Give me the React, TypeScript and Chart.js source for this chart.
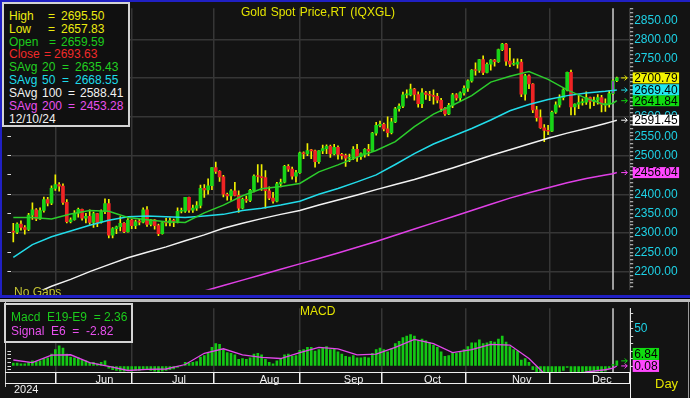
import React, { useEffect, useRef } from 'react';
import { Chart, registerables } from 'chart.js';

Chart.register(...registerables);

// ---------- DATA ----------
const DATES = [
  '05/03','05/06','05/07','05/08','05/09','05/10','05/13','05/14','05/15','05/16','05/17','05/20','05/21','05/22','05/23','05/24','05/27','05/28','05/29','05/30','05/31',
  '06/03','06/04','06/05','06/06','06/07','06/10','06/11','06/12','06/13','06/14','06/17','06/18','06/19','06/20','06/21','06/24','06/25','06/26','06/27','06/28',
  '07/01','07/02','07/03','07/04','07/05','07/08','07/09','07/10','07/11','07/12','07/15','07/16','07/17','07/18','07/19','07/22','07/23','07/24','07/25','07/26','07/29','07/30','07/31',
  '08/01','08/02','08/05','08/06','08/07','08/08','08/09','08/12','08/13','08/14','08/15','08/16','08/19','08/20','08/21','08/22','08/23','08/26','08/27','08/28','08/29','08/30',
  '09/02','09/03','09/04','09/05','09/06','09/09','09/10','09/11','09/12','09/13','09/16','09/17','09/18','09/19','09/20','09/23','09/24','09/25','09/26','09/27','09/30',
  '10/01','10/02','10/03','10/04','10/07','10/08','10/09','10/10','10/11','10/14','10/15','10/16','10/17','10/18','10/21','10/22','10/23','10/24','10/25','10/28','10/29','10/30','10/31',
  '11/01','11/04','11/05','11/06','11/07','11/08','11/11','11/12','11/13','11/14','11/15','11/18','11/19','11/20','11/21','11/22','11/25','11/26','11/27','11/28','11/29',
  '12/02','12/03','12/04','12/05','12/06','12/09','12/10','12/11',
];

const OPEN = [
  2304,2302,2323,2314,2309,2346,2360,2336,2358,2386,2377,2415,2425,2421,2379,2329,2334,2351,2361,2338,2343,
  2327,2350,2327,2355,2376,2294,2311,2316,2325,2303,2333,2319,2329,2328,2360,2322,2334,2319,2298,2327,
  2326,2332,2330,2356,2356,2392,2359,2364,2371,2415,2411,2422,2469,2459,2445,2400,2396,2409,2397,2364,2387,2384,2410,
  2447,2446,2443,2409,2390,2382,2427,2431,2472,2465,2447,2456,2507,2504,2513,2512,2484,2512,2518,2524,2504,2521,
  2503,2500,2493,2495,2516,2497,2505,2516,2512,2558,2578,2581,2569,2559,2587,2621,2628,2657,2657,2672,2658,
  2634,2662,2658,2656,2653,2643,2622,2608,2630,2657,2649,2662,2674,2693,2721,2720,2748,2715,2736,2747,2743,2774,2788,
  2744,2736,2736,2742,2659,2706,2685,2618,2598,2572,2565,2563,2612,2631,2650,2670,2715,2626,2633,2637,2638,
  2650,2640,2643,2650,2632,2633,2659.59,2693.63,
];
const HIGH = [
  2325,2326,2331,2319,2351,2378,2363,2365,2393,2392,2422,2450,2430,2427,2386,2339,2358,2364,2362,2351,2360,
  2354,2351,2360,2388,2387,2314,2318,2342,2327,2337,2335,2333,2335,2365,2368,2335,2335,2323,2330,2338,
  2339,2336,2365,2364,2392,2393,2372,2381,2424,2425,2440,2469,2483,2461,2449,2403,2412,2431,2409,2390,2395,2413,2450,
  2477,2477,2461,2419,2405,2431,2439,2475,2477,2470,2462,2509,2510,2531,2516,2514,2513,2527,2528,2527,2529,2525,
  2506,2504,2504,2523,2529,2507,2518,2529,2560,2586,2589,2584,2600,2596,2625,2634,2664,2670,2685,2674,2665,
  2673,2666,2666,2670,2661,2648,2624,2635,2661,2660,2665,2680,2696,2722,2740,2749,2758,2740,2748,2749,2775,2790,2790,
  2777,2750,2750,2749,2710,2709,2686,2627,2618,2580,2578,2615,2639,2657,2673,2716,2721,2634,2657,2647,2665,
  2651,2651,2658,2656,2647,2668,2695.50,2703,
];
const LOW = [
  2277,2298,2307,2297,2306,2335,2332,2335,2354,2370,2373,2410,2408,2374,2326,2326,2333,2341,2333,2326,2322,
  2314,2316,2325,2350,2287,2287,2298,2305,2301,2302,2311,2311,2321,2326,2317,2318,2310,2293,2297,2318,
  2318,2316,2326,2352,2353,2353,2353,2358,2365,2392,2400,2412,2454,2433,2393,2385,2384,2396,2353,2362,2379,2381,2406,
  2431,2410,2364,2386,2377,2380,2419,2429,2459,2439,2431,2454,2492,2500,2492,2470,2480,2505,2505,2495,2502,2491,
  2491,2472,2484,2490,2485,2490,2496,2500,2510,2553,2574,2564,2548,2556,2585,2615,2624,2649,2654,2643,2625,
  2624,2645,2642,2633,2636,2614,2604,2606,2624,2643,2640,2656,2666,2690,2708,2715,2709,2714,2721,2731,2741,2771,2733,
  2730,2733,2726,2652,2643,2673,2611,2589,2570,2536,2554,2562,2609,2625,2644,2667,2605,2605,2621,2630,2632,
  2622,2629,2633,2613,2614,2625,2657.83,2691,
];
const CLOSE = [
  2302,2323,2314,2309,2346,2360,2336,2358,2386,2377,2415,2425,2421,2379,2329,2334,2351,2361,2338,2343,2327,
  2350,2327,2355,2376,2294,2311,2316,2325,2303,2333,2319,2329,2328,2360,2322,2334,2319,2298,2327,2326,
  2332,2330,2356,2356,2392,2359,2364,2371,2415,2411,2422,2469,2459,2445,2400,2396,2409,2397,2364,2387,2384,2410,2447,
  2446,2443,2409,2390,2382,2427,2431,2472,2465,2447,2456,2507,2504,2513,2512,2484,2512,2518,2524,2504,2521,2503,
  2500,2493,2495,2516,2497,2505,2516,2512,2558,2578,2581,2569,2559,2587,2621,2628,2657,2657,2672,2658,2634,
  2662,2658,2656,2653,2643,2622,2608,2630,2657,2649,2662,2674,2693,2721,2720,2748,2715,2736,2747,2743,2774,2788,2744,
  2736,2736,2742,2659,2706,2685,2618,2598,2572,2565,2563,2612,2631,2650,2670,2715,2626,2633,2637,2638,2650,
  2640,2643,2650,2632,2633,2660,2693.63,2700.79,
];

// moving averages, read at sampled bars
const MA_INDEX = [0,5,10,15,20,25,30,35,40,45,50,55,60,65,70,75,80,85,90,95,100,105,110,115,120,125,130,135,140,145,150,155,157,158];
const SMA20 = [2340,2340,2336,2349,2358,2356,2340,2334,2329,2327,2352,2372,2396,2414,2420,2428,2458,2476,2496,2513,2536,2575,2607,2630,2655,2690,2705,2717,2697,2670,2648,2631,2635.43,2641.84];
const SMA50 = [2237,2270,2290,2305,2320,2333,2342,2344,2342,2340,2344,2348,2358,2364,2372,2382,2400,2415,2432,2450,2477,2505,2530,2550,2570,2592,2616,2632,2645,2655,2662,2666,2668.55,2669.40];
const SMA100 = [2120,2141,2162,2180,2200,2218,2236,2250,2264,2280,2295,2312,2325,2337,2348,2358,2372,2385,2398,2412,2425,2438,2453,2468,2484,2500,2515,2530,2545,2558,2570,2583,2588.41,2591.45];
const SMA200 = [2040,2050,2060,2070,2080,2090,2100,2110,2122,2136,2150,2164,2178,2192,2206,2220,2234,2248,2263,2278,2294,2310,2326,2342,2358,2374,2390,2404,2417,2430,2441,2450,2453.28,2456.04];

// MACD (E19-E9) per bar, and signal (E6) at sampled bars
const MACD = [
  4,4,3,3,5,7,6,7,10,11,16,22,27,24,16,12,11,11,8,7,4,5,3,5,7,
  -3,-5,-6,-7,-7,-6,-7,-6,-6,-4,-5,-6,-7,-8,-7,-6,-5,-4,-2,0,
  5,4,5,6,12,14,17,25,30,29,22,18,17,15,9,10,9,11,16,
  17,15,9,5,3,7,9,15,16,13,14,21,22,25,25,20,22,24,26,22,23,19,
  16,13,12,14,11,11,12,11,17,22,24,22,19,23,30,33,38,40,42,40,34,
  36,34,31,28,25,19,13,14,18,17,19,22,26,31,31,35,30,31,33,32,36,40,32,
  26,22,20,8,10,5,-5,-12,-20,-27,-30,-24,-17,-10,-6,-2,-8,-10,-11,-11,-9,
  -8,-7.5,-7,-8,-7,-3,2.36,6.84,
];
const SIGNAL = [8,4.5,14.5,15,4.5,-0.6,-6,-4.5,-4,2,17,23,15,11.5,10,18,25,23,15,16,25,35.6,30,18,22,29,28,10,-15,-14,-8,-5,-2.82,0.08];

const PRICE_TICK_LABELS = [2200,2250,2300,2350,2400,2450,2500,2550,2600,2650,2700,2750,2800,2850];
const MACD_TICK_LABELS = [50];
const MONTH_NAMES: Record<string, string> = {
  '01': 'Jan', '02': 'Feb', '03': 'Mar', '04': 'Apr', '05': 'May', '06': 'Jun',
  '07': 'Jul', '08': 'Aug', '09': 'Sep', '10': 'Oct', '11': 'Nov', '12': 'Dec',
};
const YEAR_LABEL = '2024';
const CURSOR = 157;

// ---------- STYLE ----------
const FONT = '"Liberation Sans", Arial, Helvetica, sans-serif';
const BG = '#131313';
const GRID = '#363636';
const AXIS_CYAN = '#1ed2e6';
const UP = '#18d418';
const DOWN = '#ee2424';
const WICK = '#f0f000';
const C_SMA20 = '#2ccc2c';
const C_SMA50 = '#22dcea';
const C_SMA100 = '#f2f2f2';
const C_SMA200 = '#e040e6';
const BLUE = '#2020c4';

const MONTH_STARTS = DATES.map((d, i) => (i > 0 && d.slice(0, 2) !== DATES[i - 1].slice(0, 2) ? i : -1)).filter((i) => i >= 0);
const X_MIN = -0.5;
const X_MAX = DATES.length + 2.5;
const LEFT_W = 11.4;
const RIGHT_W = 690 - 630.2;
const maAt = (arr: number[], idx: number) => arr[MA_INDEX.indexOf(idx)];
const maPoints = (arr: number[]) => MA_INDEX.map((x, k) => ({ x, y: arr[k] }));

function makeCursor(index: number) {
  return {
    id: 'cursorLine',
    beforeDatasetsDraw(chart: any) {
      const { ctx, chartArea } = chart;
      const x = chart.scales.x.getPixelForValue(index);
      ctx.save();
      ctx.strokeStyle = '#cfcfcf';
      ctx.lineWidth = 1.5;
      ctx.beginPath();
      ctx.moveTo(x, chartArea.top);
      ctx.lineTo(x, chartArea.bottom);
      ctx.stroke();
      ctx.restore();
    },
  };
}

type Box = { value: number; fill: string; arrow: string };
function makeValueBoxes(items: Box[], h: number) {
  return {
    id: 'valueBoxes',
    afterDraw(chart: any) {
      const { ctx, chartArea } = chart;
      const ys = chart.scales.y;
      ctx.save();
      ctx.font = `12px ${FONT}`;
      ctx.textBaseline = 'middle';
      const placed = items
        .map((it) => ({ ...it, ny: ys.getPixelForValue(it.value) }))
        .sort((a, b) => b.ny - a.ny);
      let prevTop = Infinity;
      for (const it of placed) {
        const cy = Math.min(it.ny, prevTop - h / 2);
        prevTop = cy - h / 2;
        const text = it.value.toFixed(2);
        const w = ctx.measureText(text).width + 3;
        const bx = chartArea.right + 2.5;
        ctx.fillStyle = it.fill;
        ctx.fillRect(bx, cy - h / 2, w, h);
        ctx.fillStyle = '#000';
        ctx.fillText(text, bx + 1.5, cy + 0.5);
        const a1 = chartArea.right - 9;
        const a2 = chartArea.right - 3;
        ctx.strokeStyle = it.arrow;
        ctx.lineWidth = 1;
        ctx.beginPath();
        ctx.moveTo(a1, it.ny);
        ctx.lineTo(a2, it.ny);
        ctx.moveTo(a2 - 2.5, it.ny - 2.5);
        ctx.lineTo(a2, it.ny);
        ctx.lineTo(a2 - 2.5, it.ny + 2.5);
        ctx.stroke();
      }
      ctx.restore();
    },
  };
}

function monthTicks(s: any) {
  s.ticks = MONTH_STARTS.map((v) => ({ value: v }));
}

export default function App() {
  const mainRef = useRef<HTMLCanvasElement>(null);
  const macdRef = useRef<HTMLCanvasElement>(null);

  useEffect(() => {
    Chart.defaults.font.family = FONT;
    const yMin = 2153;
    const yMax = 2881;
    const main = new Chart(mainRef.current as HTMLCanvasElement, {
      type: 'bar',
      data: {
        datasets: [
          {
            type: 'line', label: 'SAvg 20', data: maPoints(SMA20), borderColor: C_SMA20, borderWidth: 1.5,
            pointRadius: 0, order: 1, clip: 0,
          } as any,
          {
            type: 'line', label: 'SAvg 50', data: maPoints(SMA50), borderColor: C_SMA50, borderWidth: 1.5,
            pointRadius: 0, order: 1, clip: 0,
          },
          {
            type: 'line', label: 'SAvg 100', data: maPoints(SMA100), borderColor: C_SMA100, borderWidth: 1.5,
            pointRadius: 0, order: 1, clip: 0,
          },
          {
            type: 'line', label: 'SAvg 200', data: maPoints(SMA200), borderColor: C_SMA200, borderWidth: 1.5,
            pointRadius: 0, order: 1, clip: 0,
          },
          {
            type: 'bar', label: 'body', data: DATES.map((_, i) => ({ x: i, y: [OPEN[i], CLOSE[i]] })),
            backgroundColor: (c: any) => (c.dataIndex === CURSOR ? '#a444d8' : CLOSE[c.dataIndex] >= OPEN[c.dataIndex] ? UP : DOWN),
            borderColor: UP, borderWidth: (c: any) => (c.dataIndex === CURSOR ? 1 : 0), borderSkipped: false,
            barThickness: 3, grouped: false, minBarLength: 1, order: 2, clip: 0,
          },
          {
            type: 'bar', label: 'wick', data: DATES.map((_, i) => ({ x: i, y: [LOW[i], HIGH[i]] })),
            backgroundColor: WICK, barThickness: 1, grouped: false, order: 3, clip: 0,
          },
        ],
      } as any,
      options: {
        responsive: false,
        animation: false,
        devicePixelRatio: 1,
        layout: { padding: { top: 3, bottom: 2, left: 0, right: 0 } },
        plugins: { legend: { display: false }, tooltip: { enabled: false } },
        scales: {
          x: {
            type: 'linear', min: X_MIN, max: X_MAX, offset: false,
            afterBuildTicks: monthTicks,
            ticks: { display: false, autoSkip: false },
            grid: { color: GRID, lineWidth: 1.5, drawTicks: false },
            border: { display: false },
            afterFit: (s: any) => { s.height = 0; },
          },
          y: {
            position: 'right', min: yMin, max: yMax,
            afterBuildTicks: (s: any) => {
              const t = [];
              for (let v = Math.ceil(yMin / 10) * 10; v <= yMax; v += 10) t.push({ value: v });
              s.ticks = t;
            },
            ticks: {
              autoSkip: false, color: AXIS_CYAN, padding: 1, font: { size: 12, family: FONT },
              callback: (v: any) => (PRICE_TICK_LABELS.includes(Number(v)) ? Number(v).toFixed(2) : ''),
            },
            grid: {
              color: (c: any) => (c.tick && c.tick.value % 100 === 0 ? GRID : 'rgba(0,0,0,0)'),
              lineWidth: 1.5, tickColor: '#d8d8d8', tickLength: 3, tickWidth: 1,
            },
            border: { display: false },
            afterFit: (s: any) => { s.width = RIGHT_W; },
          },
          yl: {
            position: 'left', min: yMin, max: yMax,
            afterBuildTicks: (s: any) => { s.ticks = PRICE_TICK_LABELS.map((v) => ({ value: v })); },
            ticks: { display: false },
            grid: { drawOnChartArea: false, tickColor: '#d8d8d8', tickLength: 4, tickWidth: 1 },
            border: { display: false },
            afterFit: (s: any) => { s.width = LEFT_W; },
          },
        },
      } as any,
      plugins: [
        makeCursor(CURSOR),
        makeValueBoxes(
          [
            { value: CLOSE[CLOSE.length - 1], fill: '#f4f400', arrow: '#f4f400' },
            { value: maAt(SMA50, DATES.length - 1), fill: '#22e6f0', arrow: '#22e6f0' },
            { value: maAt(SMA20, DATES.length - 1), fill: '#10dc10', arrow: '#10dc10' },
            { value: maAt(SMA100, DATES.length - 1), fill: '#ffffff', arrow: '#ffffff' },
            { value: maAt(SMA200, DATES.length - 1), fill: '#ff48ff', arrow: '#ff48ff' },
          ],
          11,
        ),
      ] as any,
    });

    const mMin = -8.0;
    const mMax = 77.2;
    const macd = new Chart(macdRef.current as HTMLCanvasElement, {
      type: 'bar',
      data: {
        datasets: [
          {
            type: 'line', label: 'Signal E6', data: maPoints(SIGNAL), borderColor: '#e048e8', borderWidth: 1.3,
            pointRadius: 0, order: 1, clip: 0,
          },
          {
            type: 'bar', label: 'Macd E19-E9', data: DATES.map((_, i) => ({ x: i, y: MACD[i] })),
            backgroundColor: '#14c814', barThickness: 2, grouped: false, order: 2, clip: 0,
          },
        ],
      } as any,
      options: {
        responsive: false,
        animation: false,
        devicePixelRatio: 1,
        layout: { padding: { top: 3, bottom: 0, left: 0, right: 0 } },
        plugins: { legend: { display: false }, tooltip: { enabled: false } },
        scales: {
          x: {
            type: 'linear', min: X_MIN, max: X_MAX, offset: false,
            afterBuildTicks: monthTicks,
            ticks: {
              autoSkip: false, maxRotation: 0, color: '#f0f0f0', font: { size: 11, family: FONT },
              align: 'start', labelOffset: 2, padding: -10,
              callback: (v: any) => MONTH_NAMES[DATES[Number(v)].slice(0, 2)],
            },
            grid: { color: GRID, lineWidth: 1.5, tickColor: '#f0f0f0', tickLength: 11, tickWidth: 1.5 },
            border: { display: false },
            afterFit: (s: any) => { s.height = 26; },
          },
          y: {
            position: 'right', min: mMin, max: mMax,
            afterBuildTicks: (s: any) => {
              const t = [];
              for (let v = 0; v <= mMax; v += 10) t.push({ value: v });
              s.ticks = t;
            },
            ticks: {
              autoSkip: false, color: AXIS_CYAN, padding: 1, font: { size: 12, family: FONT },
              callback: (v: any) => (MACD_TICK_LABELS.includes(Number(v)) ? String(v) : ''),
            },
            grid: { drawOnChartArea: false, tickColor: '#d8d8d8', tickLength: 3, tickWidth: 1 },
            border: { display: true, color: '#e0e0e0', width: 1 },
            afterFit: (s: any) => { s.width = RIGHT_W; },
          },
          yl: {
            position: 'left', min: mMin, max: mMax,
            afterBuildTicks: (s: any) => { s.ticks = [-5, 0, 5, 10, 15, 20].map((v) => ({ value: v })); },
            ticks: { display: false },
            grid: { drawOnChartArea: false, tickColor: '#d8d8d8', tickLength: 4, tickWidth: 1 },
            border: { display: false },
            afterFit: (s: any) => { s.width = LEFT_W; },
          },
        },
      } as any,
      plugins: [
        makeCursor(CURSOR),
        makeValueBoxes(
          [
            { value: MACD[MACD.length - 1], fill: '#10dc10', arrow: '#10dc10' },
            { value: SIGNAL[SIGNAL.length - 1], fill: '#ff48ff', arrow: '#ff48ff' },
          ],
          12,
        ),
      ] as any,
    });

    return () => {
      main.destroy();
      macd.destroy();
    };
  }, []);

  const c = CURSOR;
  const rowY = (k: number) => 15.7 + 12.9 * k - 7;
  const legendRows: { parts: [string, number][]; color: string }[] = [
    { parts: [['High', 9], ['=', 48], [HIGH[c].toFixed(2), 61]], color: '#ecec10' },
    { parts: [['Low', 9], ['=', 48], [LOW[c].toFixed(2), 61]], color: '#ecec10' },
    { parts: [['Open', 9], ['=', 49], [OPEN[c].toFixed(2), 61]], color: '#1ccc1c' },
    { parts: [['Close', 9], ['=', 44], [CLOSE[c].toFixed(2), 54]], color: '#f02a2a' },
    { parts: [['SAvg', 9], ['20', 42], ['=', 62], [maAt(SMA20, c).toFixed(2), 75]], color: '#22d022' },
    { parts: [['SAvg', 9], ['50', 42], ['=', 62], [maAt(SMA50, c).toFixed(2), 75]], color: '#1edcea' },
    { parts: [['SAvg', 9], ['100', 42], ['=', 68], [maAt(SMA100, c).toFixed(2), 80]], color: '#f2f2f2' },
    { parts: [['SAvg', 9], ['200', 42], ['=', 68], [maAt(SMA200, c).toFixed(2), 80]], color: '#e850ee' },
    { parts: [[`${DATES[c]}/${YEAR_LABEL.slice(2)}`, 9]], color: '#f2f2f2' },
  ];

  const abs = (s: React.CSSProperties): React.CSSProperties => ({ position: 'absolute', ...s });
  const text = (s: React.CSSProperties): React.CSSProperties => abs({ whiteSpace: 'pre', fontSize: 12, lineHeight: '14px', ...s });

  return (
    <div style={{ position: 'absolute', left: 0, top: 0, width: 690, height: 398, background: BG, overflow: 'hidden', fontFamily: FONT }}>
      <canvas ref={mainRef} width={690} height={298} style={abs({ left: 0, top: 0 })} />
      <canvas ref={macdRef} width={690} height={98} style={abs({ left: 0, top: 300 })} />

      {/* title and notes */}
      <div style={text({ left: 241, top: 5, color: '#e4e400', wordSpacing: 1 })}>Gold Spot Price,RT (IQXGL)</div>
      <div style={text({ left: 14, top: 285, color: '#c4c434' })}>No Gaps</div>

      {/* frame */}
      <div style={abs({ left: 0, top: 0, width: 690, height: 2, background: BLUE })} />
      <div style={abs({ left: 0, top: 0, width: 2, height: 298, background: BLUE })} />
      <div style={abs({ left: 0, top: 295, width: 690, height: 3, background: BLUE })} />
      <div style={abs({ left: 0, top: 298, width: 690, height: 1, background: '#000' })} />
      <div style={abs({ left: 0, top: 299, width: 690, height: 3, background: '#bdbdbd' })} />
      <div style={abs({ left: 5, top: 302, width: 1, height: 85, background: '#c8c8c8' })} />
      <div style={abs({ left: 5, top: 372, width: 626, height: 1, background: '#f0f0f0' })} />
      <div style={abs({ left: 5, top: 383, width: 626, height: 1, background: '#f0f0f0' })} />
      <div style={abs({ left: 630, top: 372, width: 1, height: 26, background: '#f0f0f0' })} />
      <div style={abs({ left: 688, top: 302, width: 1, height: 96, background: '#9a9a9a' })} />

      {/* main legend */}
      <div style={abs({ left: 2, top: 2, width: 124, height: 121, border: '2px solid #d4d4d4', background: '#101010' })} />
      {legendRows.map((r, k) =>
        r.parts.map(([t, x], j) => (
          <div key={`${k}-${j}`} style={text({ left: x, top: rowY(k), color: r.color })}>{t}</div>
        )),
      )}

      {/* MACD legend */}
      <div style={abs({ left: 4, top: 303, width: 125, height: 36, border: '2px solid #d4d4d4', background: '#101010' })} />
      <div style={text({ left: 11, top: 310, color: '#1ccc1c' })}>{`Macd  E19-E9  = ${MACD[c].toFixed(2)}`}</div>
      <div style={text({ left: 11, top: 324, color: '#e850ee' })}>{`Signal  E6  =  ${maAt(SIGNAL, c).toFixed(2)}`}</div>
      <div style={text({ left: 300, top: 304, color: '#e4e400' })}>MACD</div>

      <div style={text({ left: 14, top: 382, fontSize: 11, color: '#f0f0f0' })}>{YEAR_LABEL}</div>
      <div style={text({ left: 655, top: 376, fontSize: 13, lineHeight: '16px', color: '#e4e400' })}>Day</div>
    </div>
  );
}
